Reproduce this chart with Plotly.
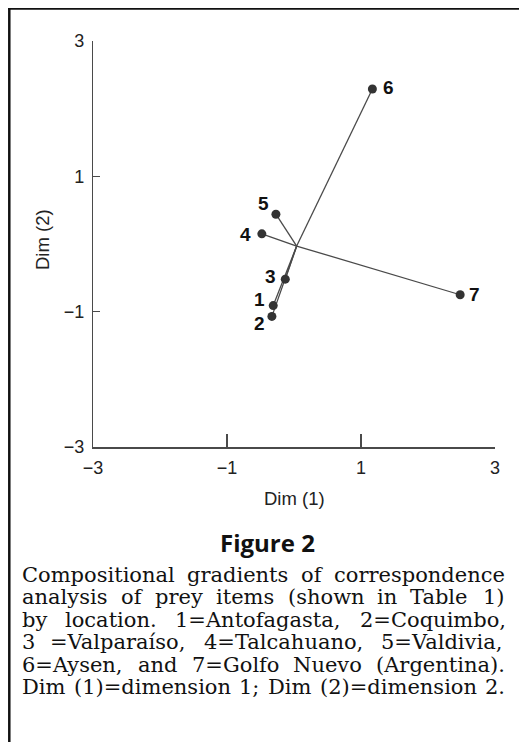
import plotly.graph_objects as go

# ---- data ----
site_labels = ["1", "2", "3", "4", "5", "6", "7"]
dim1 = [-0.31, -0.33, -0.13, -0.48, -0.27, 1.17, 2.48]
dim2 = [-0.91, -1.07, -0.52, 0.15, 0.44, 2.29, -0.75]
centroid_x = [0.04]
centroid_y = [-0.03]
tick_vals = [-3, -1, 1, 3]
inner_ticks = [-1, 1]

caption_title = "Figure 2"
caption_lines = [
    "Compositional gradients of correspondence",
    "analysis of prey items (shown in Table 1)",
    "by location. 1=Antofagasta, 2=Coquimbo,",
    "3 =Valparaíso, 4=Talcahuano, 5=Valdivia,",
    "6=Aysen, and 7=Golfo Nuevo (Argentina).",
    "Dim (1)=dimension 1; Dim (2)=dimension 2.",
]

# label offsets (pixels) around each point
label_dx = [-14, -12, -15, -16, -12, 16, 14]
label_dy = [6, -7, 3, -1, 11, 2, 0]

# ---- layout geometry (pixels, page coordinates) ----
OFF = 8                      # default body margin of the html page
W, H = 527 - OFF, 742 - OFF  # figure size
L, R, T, B = 93, 495, 41, 447  # plot area in page coordinates


def px(x):
    return (x - L) / (R - L)


def py(y):
    return (B - y) / (B - T)


fig = go.Figure()

# segments from each site to the centroid
seg_x, seg_y = [], []
for x, y in zip(dim1, dim2):
    seg_x += [x, centroid_x[0], None]
    seg_y += [y, centroid_y[0], None]
fig.add_trace(go.Scatter(x=seg_x, y=seg_y, mode="lines",
                         line=dict(color="#4a4a4a", width=1.3),
                         hoverinfo="skip", showlegend=False))

fig.add_trace(go.Scatter(x=dim1, y=dim2, mode="markers",
                         marker=dict(color="#333333", size=9),
                         text=site_labels, showlegend=False))

# invisible trace on overlay axis carrying the inner ticks
fig.add_trace(go.Scatter(x=dim1, y=dim2, xaxis="x2", mode="markers",
                         marker=dict(opacity=0), hoverinfo="skip",
                         showlegend=False))

for lab, x, y, dx, dy in zip(site_labels, dim1, dim2, label_dx, label_dy):
    fig.add_annotation(x=x, y=y, text="<b>%s</b>" % lab, showarrow=False,
                       xshift=dx, yshift=dy, xanchor="center", yanchor="middle",
                       font=dict(family="Liberation Sans, Arial", size=19, color="#111"))

axis_font = dict(family="Liberation Sans, Arial", size=18, color="#222")

fig.update_layout(
    width=W, height=H,
    margin=dict(l=L - OFF, r=W - (R - OFF), t=T - OFF, b=H - (B - OFF), pad=0),
    paper_bgcolor="white", plot_bgcolor="white",
    showlegend=False,
    xaxis=dict(range=[-3, 3], tickvals=tick_vals, ticks="",
               showgrid=False, zeroline=False, showline=True,
               linecolor="#4a4a4a", linewidth=1.6,
               tickfont=axis_font, ticklabelstandoff=4),
    xaxis2=dict(range=[-3, 3], overlaying="x", side="bottom", anchor="y",
                tickvals=inner_ticks, ticks="inside", ticklen=13, tickwidth=1.5,
                tickcolor="#4a4a4a", showticklabels=False, showgrid=False,
                zeroline=False, showline=False),
    yaxis=dict(range=[-3, 3], tickvals=tick_vals, ticks="inside", ticklen=7,
               tickwidth=1.3, tickcolor="#4a4a4a",
               showgrid=False, zeroline=False, showline=True,
               linecolor="#4a4a4a", linewidth=1.4,
               tickfont=axis_font, ticklabelstandoff=4),
)

title_font = dict(family="Liberation Sans, Arial", size=18.5, color="#222")
# axis titles
fig.add_annotation(xref="paper", yref="paper", x=px(294), y=py(498),
                   xanchor="center", yanchor="middle",
                   text="Dim (1)", showarrow=False, font=title_font)
fig.add_annotation(xref="paper", yref="paper", x=px(42), y=py(240),
                   xanchor="center", yanchor="middle",
                   text="Dim (2)", showarrow=False, textangle=-90, font=title_font)

# caption title
fig.add_annotation(xref="paper", yref="paper", x=px(267), y=py(542),
                   xanchor="center", yanchor="middle",
                   text="<b>%s</b>" % caption_title, showarrow=False,
                   font=dict(family="Open Sans", size=24, color="#111"))

# caption body, justified word by word (approximate DejaVu Serif advance widths, em)
CW = {" ": .318, ".": .318, ",": .318, ";": .337, "(": .39, ")": .39, "=": .838,
      "a": .613, "b": .642, "c": .55, "d": .642, "e": .592, "f": .371, "g": .642,
      "h": .642, "i": .32, "í": .32, "j": .32, "k": .609, "l": .32, "m": .948,
      "n": .642, "o": .603, "p": .642, "q": .642, "r": .482, "s": .512, "t": .403,
      "u": .642, "v": .577, "w": .834, "x": .577, "y": .577, "z": .527,
      "A": .722, "C": .735, "D": .802, "G": .775, "N": .836, "T": .682, "V": .722}
CAP_SIZE = 21
CAP_X0, CAP_X1 = 22, 505


def word_width(w):
    return sum(CW.get(ch, .636) for ch in w) * CAP_SIZE


for i, line in enumerate(caption_lines):
    words = line.split(" ")
    widths = [word_width(w) for w in words]
    gap = (CAP_X1 - CAP_X0 - sum(widths)) / (len(words) - 1)
    xpos = CAP_X0
    for w, ww in zip(words, widths):
        fig.add_annotation(xref="paper", yref="paper", x=px(xpos), y=py(575 + 22.4 * i),
                           xanchor="left", yanchor="middle", borderpad=0, borderwidth=0,
                           text=w, showarrow=False,
                           font=dict(family="DejaVu Serif", size=CAP_SIZE, color="#111"))
        xpos += ww + gap

# page frame
fig.add_shape(type="line", xref="paper", yref="paper",
              x0=px(9.3), x1=px(9.3), y0=py(8), y1=py(760),
              line=dict(color="#111", width=2.5))
fig.add_shape(type="line", xref="paper", yref="paper",
              x0=px(8), x1=px(540), y0=py(8.5), y1=py(8.5),
              line=dict(color="#111", width=2.5))

fig.write_html("out.html")
